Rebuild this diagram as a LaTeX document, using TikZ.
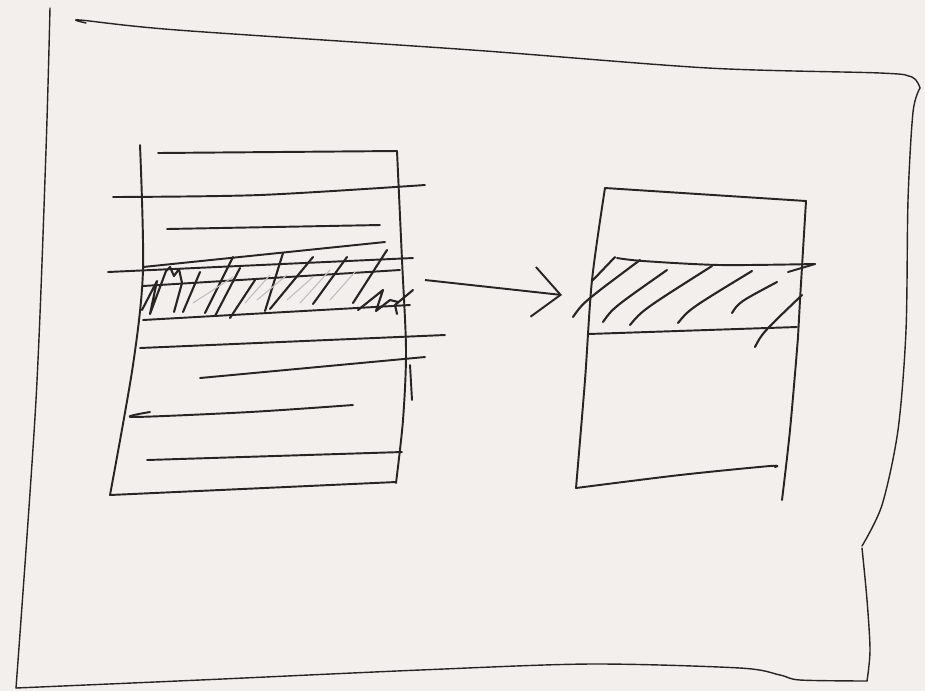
\documentclass[tikz,border=0pt]{standalone}
\usepackage{tikz}
\usetikzlibrary{arrows.meta, calc}
\definecolor{paper}{RGB}{242,239,237}
\definecolor{ink}{RGB}{40,36,36}

\begin{document}
\begin{tikzpicture}[x=0.02cm, y=-0.02cm,
    pen/.style={draw=ink, line width=1.1pt, line cap=round, line join=round},
    frame/.style={draw=ink, line width=0.8pt, line cap=round, line join=round},
    hatch/.style={draw=ink, line width=1.2pt, line cap=round, line join=round},
    faint/.style={draw=ink!30, line width=0.6pt, line cap=round},
    arr/.style={-{Straight Barb[length=0.55cm, width=1.0cm]}, draw=ink, line width=1.1pt}
  ]
    \fill[paper] (0,0) rectangle (925,691);
    \useasboundingbox (0,0) rectangle (925,691);

    % Outer frame
    \draw[frame] plot[smooth] coordinates {(50,8) (46,150) (36,400) (16,688)};
    \draw[frame] plot[smooth] coordinates {(86,23) (80,20) (177,30) (472,50) (708,68) (880,73) (912,77) (920,88)};
    \draw[frame] plot[smooth] coordinates {(920,88) (913,112) (908,200) (906,330) (898,430) (882,505) (862,546)};
    \draw[frame] plot[smooth] coordinates {(862,548) (867,600) (870,650) (867,681)};
    \draw[frame] plot[smooth] coordinates {(16,688) (200,680) (420,670) (590,664) (740,668) (780,675) (800,680) (867,681)};

    % Source document
    \draw[pen] plot[smooth] coordinates {(140,145) (143,270) (133,365) (110,495)};
    \draw[pen] (158,153) -- (397,151);
    \draw[pen] plot[smooth] coordinates {(397,151) (402,260) (406,350) (403,420) (396,483)};
    \draw[pen] (410,365) -- (412,400);
    \draw[pen] (110,495) -- (396,482);
    % text lines
    \draw[pen] plot[smooth] coordinates {(113,197) (260,195) (425,185)};
    \draw[pen] (167,229) -- (380,225);
    \draw[pen] (143,267) -- (385,242);
    \draw[pen] (108,272) -- (413,258);
    \draw[pen] (143,286) -- (400,270);
    \draw[pen] (143,320) -- (410,305);
    \draw[pen] (140,348) -- (445,335);
    \draw[pen] (200,378) -- (425,357);
    \draw[pen] plot[smooth] coordinates {(150,412) (133,417) (250,412) (353,405)};
    \draw[pen] (147,460) -- (402,452);
    % hatching
    \draw[hatch] (142,310) -- (157,281) -- (150,314) -- (166,271) -- (170,267)
                 -- (174,276) -- (179,269) -- (182,283) -- (174,312);
    \foreach \xa/\ya/\xb/\yb in {183/312/200/272, 205/313/233/257, 215/316/240/268,
        230/318/255/280, 265/311/283/253, 270/309/313/257, 313/304/347/257,
        353/303/387/250}
      \draw[hatch] (\xa,\ya) -- (\xb,\yb);
    \draw[hatch] (358,310) -- (383,290) -- (376,311) -- (390,300) -- (398,302);
    \draw[hatch] (397,314) -- (395,305) -- (413,290);
    \foreach \xa/\ya/\xb/\yb in {193/303/233/277, 245/303/270/275, 257/300/287/275,
        287/300/313/277, 300/303/330/270, 330/300/355/272}
      \draw[faint] (\xa,\ya) -- (\xb,\yb);

    % Arrow
    \coordinate (tail) at (425,280);
    \coordinate (head) at (562,295);
    \draw[arr] (tail) -- (head);

    % Target document
    \draw[pen] plot[smooth] coordinates {(605,188) (592,280) (585,380) (576,488)};
    \draw[pen] (605,188) -- (806,201);
    \draw[pen] plot[smooth] coordinates {(806,201) (800,300) (798,337) (790,430) (782,500)};
    \draw[pen] plot[smooth] coordinates {(576,488) (680,475) (770,466) (775,467)};
    \draw[pen] plot[smooth] coordinates {(617,258) (643,261) (720,265) (815,264)};
    \draw[pen] (815,264) -- (788,272);
    \draw[pen] (588,334) -- (797,327);
    % hatching
    \draw[hatch] (593,280) -- (615,257);
    \foreach \xa/\ya/\xb/\yb in {573/317/640/260, 603/322/667/270, 630/325/712/266,
        678/323/752/271, 732/313/777/282, 755/347/802/295}
      \draw[hatch] (\xa,\ya) .. controls ($(\xa,\ya)!0.15!(\xb,\yb)+(0,-6)$) .. (\xb,\yb);
  \end{tikzpicture}
\end{document}
